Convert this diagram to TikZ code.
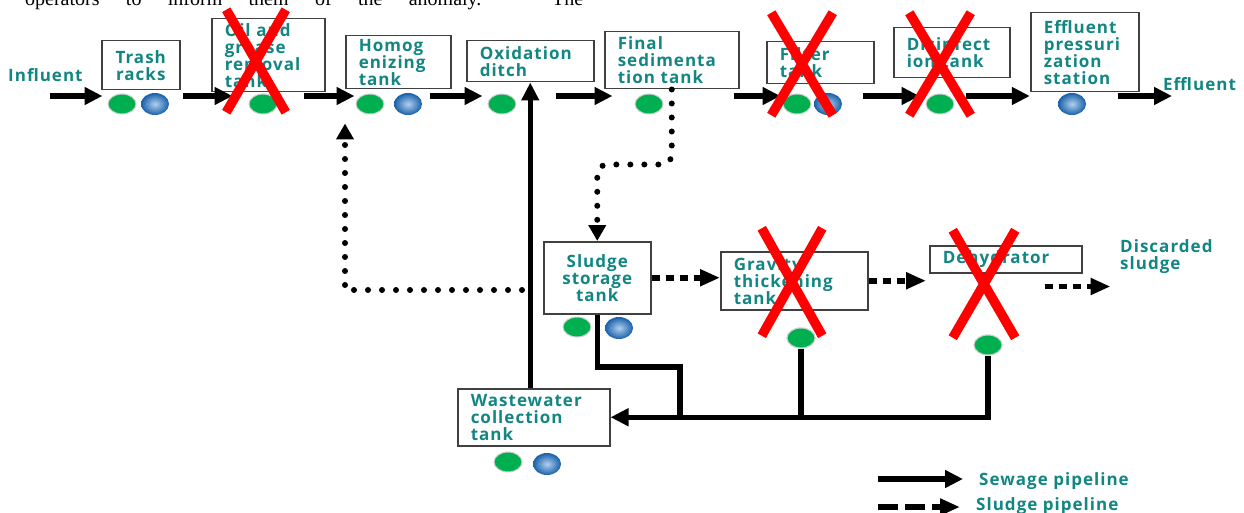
\documentclass[tikz,border=0pt]{standalone}
\usepackage{fontspec}
\setmainfont{Liberation Serif}
\newfontfamily\labelfont[LetterSpace=6]{Open Sans}
\usetikzlibrary{shapes.geometric, shapes.misc, arrows.meta, positioning}
\definecolor{labelteal}{RGB}{18, 134, 130}
\definecolor{boxgray}{RGB}{64, 64, 64}
\definecolor{probegreen}{RGB}{0, 176, 80}
\definecolor{probeblue}{RGB}{30, 120, 210}
\definecolor{faultred}{RGB}{255, 0, 0}
\newcommand{\tankfont}{\labelfont\bfseries\fontsize{17}{17}\selectfont}

\begin{document}
\begin{tikzpicture}[
    x=1pt, y=-1pt,
    tank/.style={rectangle, draw=boxgray, line width=1.5pt, fill=white, anchor=north west, font=\tankfont, text=labelteal, align=left, inner xsep=13pt, inner ysep=1pt},
    plaintext/.style={font=\tankfont, text=labelteal, inner sep=0pt, align=left},
    greenprobe/.style={ellipse, fill=probegreen, draw=black!18, line width=1pt, minimum width=28pt, minimum height=20pt, inner sep=0pt},
    blueprobe/.style={ellipse, shading=radial, inner color=probeblue!35!white, outer color=probeblue!80!black, minimum width=28pt, minimum height=22pt, inner sep=0pt},
    fault/.style={cross out, draw=faultred, line width=9.5pt, inner sep=0pt},
    pipework/.style={line width=5.5pt},
    pipe/.style={pipework, -{Triangle[length=18pt, width=17pt]}},
    sludgeline/.style={line width=6pt, line cap=round, dash pattern=on 0pt off 14pt, -{Triangle[length=16pt, width=17pt]}},
    sludgepipe/.style={line width=5.5pt, dash pattern=on 8pt off 6pt, -{Triangle[length=20pt, width=16pt]}},
]
\useasboundingbox (0,0) rectangle (1244,513);
\clip (0,0) rectangle (1244,513);
\fill[white] (0,0) rectangle (1244,513);

% Page text above the figure
\node[font=\fontsize{20}{20}\selectfont, anchor=base west, inner sep=0pt] (pagetext) at (25,6) {\makebox[558pt][s]{operators to inform them of the anomaly. The}};

% Sewage line
\node[tank, text width=52pt, minimum height=49pt, align=center] (trash) at (101,40) {Trash\\racks};
\node[tank, text width=87pt, minimum height=73pt] (oil) at (211,18) {Oil and\\grease\\removal\\tank};
\node[tank, text width=79pt, minimum height=53pt] (homog) at (345,35) {Homog\\enizing\\tank};
\node[tank, text width=101pt, minimum height=41pt] (oxid) at (466,40) {Oxidation\\ditch};
\node[tank, text width=108pt, minimum height=57pt] (finalsed) at (604,31) {Final\\sedimenta\\tion tank};
\node[tank, text width=81pt, minimum height=42pt] (filter) at (766,41) {Filter\\tank};
\node[tank, text width=90pt, minimum height=50pt] (disinf) at (893,27) {Disinfect\\ion tank};
\node[tank, text width=82pt, minimum height=79pt] (effpress) at (1030,12) {Effluent\\pressuri\\zation\\station};

% Sludge line
\node[tank, text width=81pt, minimum height=72pt, align=center] (sludge) at (543,241) {Sludge\\storage\\tank};
\node[tank, text width=121pt, minimum height=58pt] (gravity) at (720,251) {Gravity\\thickening\\tank};
\node[tank, text width=126pt, minimum height=27pt, inner ysep=0pt] (dehyd) at (929,245) {Dehydrator};
\node[tank, text width=126pt, minimum height=57pt] (wastew) at (457,388) {Wastewater\\collection\\tank};

% Free labels
\node[plaintext, anchor=base west] (influent) at (8,82) {Influent};
\node[plaintext, anchor=base west] (effluent) at (1163,91) {Effluent};
\node[plaintext, anchor=north west] (discarded) at (1120,239) {Discarded\\sludge};
\coordinate (inflow) at (50,96);
\coordinate (outflow) at (1172,96);
\coordinate (tap) at (522,290);
\coordinate (sludgebend) at (680,367);

% Probes
\node[greenprobe] (trashG) at (122,104) {};
\node[blueprobe] (trashB) at (155,104) {};
\node[greenprobe] (oilG) at (263,104) {};
\node[greenprobe] (homogG) at (370,104) {};
\node[blueprobe] (homogB) at (408,104) {};
\node[greenprobe] (oxidG) at (502,104) {};
\node[greenprobe] (finalG) at (649,104) {};
\node[greenprobe] (filterG) at (797,104) {};
\node[blueprobe] (filterB) at (828,104) {};
\node[greenprobe] (disinfG) at (940,104) {};
\node[blueprobe] (effB) at (1072,104) {};
\node[greenprobe] (sludgeG) at (577,327) {};
\node[blueprobe] (sludgeB) at (619,328) {};
\node[greenprobe] (gravityG) at (801,338) {};
\node[greenprobe] (dehydG) at (988,345) {};
\node[greenprobe] (wastewG) at (508,462) {};
\node[blueprobe] (wastewB) at (547,464) {};

% Sewage pipes
\draw[pipe, shorten >=5pt] (inflow) -- (inflow -| trashG.west);
\draw[pipe, shorten <=14pt, shorten >=16pt] ([yshift=8pt]trashB.east) -- ([yshift=8pt]oilG.west);
\draw[pipe, shorten <=26pt, shorten >=1pt] ([yshift=8pt]oilG.east) -- ([yshift=8pt]homogG.west);
\draw[pipe, shorten <=8pt, shorten >=5pt] ([yshift=8pt]homogB.east) -- ([yshift=8pt]oxidG.west);
\draw[pipe, shorten <=39pt, shorten >=22pt] ([yshift=8pt]oxidG.east) -- ([yshift=8pt]finalG.west);
\draw[pipe, shorten <=70pt, shorten >=2pt] ([yshift=8pt]finalG.east) -- ([yshift=8pt]filterG.west);
\draw[pipe, shorten <=21pt, shorten >=6pt] ([yshift=8pt]filterB.east) -- ([yshift=8pt]disinfG.west);
\draw[pipe, shorten <=11pt, shorten >=28pt] ([yshift=8pt]disinfG.east) -- ([yshift=8pt]effB.west);
\draw[pipe, shorten <=32pt] ([yshift=8pt]effB.east) -- (outflow);
\draw[pipe] (oxid.south |- wastew.north) -- (oxid.south);

% Return pipes
\draw[pipe] (dehydG.south) |- (wastew.east);
\draw[pipework] (gravityG.south) -- (gravityG.south |- wastew.east);
\draw[pipework] (sludge.south) |- (sludgebend) -- (sludgebend |- wastew.east);

% Sludge pipes
\draw[sludgeline, rounded corners=10pt] (finalsed.south) -- ++(0,75) -| (sludge.north);
\draw[sludgeline, shorten >=34pt] (tap) -| (homog.south west);
\draw[sludgepipe] (sludge.east) -- (sludge.east -| gravity.west);
\draw[sludgepipe, shorten >=3pt] (gravity.east) -- (gravity.east -| dehyd.west);
\draw[sludgepipe] ([shift={(-38,13)}]dehyd.south east) -- ++(66,0);

% Probes on top of the pipes
\foreach \p in {gravityG, dehydG}
  \node[greenprobe] at (\p) {};

% Out of service
\node[fault, minimum width=50pt, minimum height=93pt] (oilX) at (256,61) {};
\node[fault, minimum width=52pt, minimum height=93pt] (filterX) at (802,64) {};
\node[fault, minimum width=52pt, minimum height=93pt] (disinfX) at (940,64) {};
\node[fault, minimum width=51pt, minimum height=98pt] (gravityX) at (792,282) {};
\node[fault, minimum width=53pt, minimum height=98pt] (dehydX) at (984,284) {};

% Legend
\coordinate (sewkey) at (878,479);
\coordinate (sludkey) at (878,507);
\node[plaintext, anchor=base west] (sewtext) at (979,485) {Sewage pipeline};
\node[plaintext, anchor=base west] (sludtext) at (976,510) {Sludge pipeline};
\draw[pipe, shorten >=16pt] (sewkey) -- (sewkey -| sewtext.west);
\draw[sludgepipe, dash pattern=on 20pt off 7pt, shorten >=16pt] (sludkey) -- (sludkey -| sludtext.west);

\end{tikzpicture}
\end{document}
